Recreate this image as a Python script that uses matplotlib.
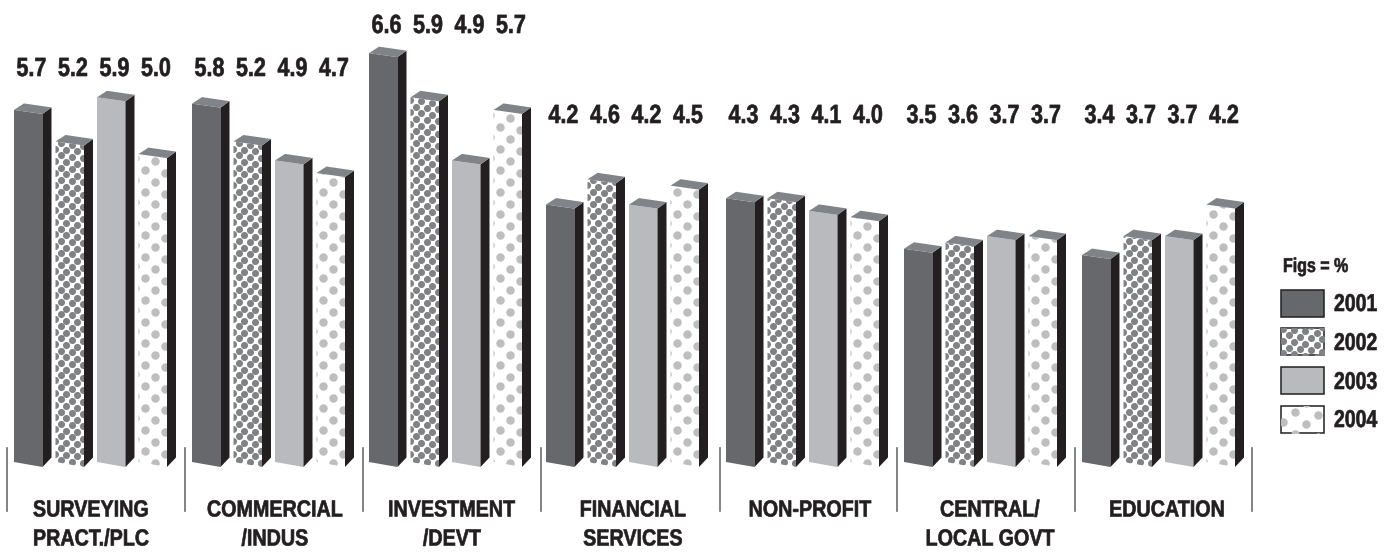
import numpy as np
import matplotlib
matplotlib.use("Agg")
import matplotlib.pyplot as plt
from matplotlib.patches import Polygon, Rectangle
from matplotlib.patheffects import AbstractPathEffect
from matplotlib.transforms import Affine2D

categories = [["SURVEYING", "PRACT./PLC"], ["COMMERCIAL", "/INDUS"], ["INVESTMENT", "/DEVT"],
              ["FINANCIAL", "SERVICES"], ["NON-PROFIT"], ["CENTRAL/", "LOCAL GOVT"], ["EDUCATION"]]
years = ["2001", "2002", "2003", "2004"]
v2001 = [5.7, 5.8, 6.6, 4.2, 4.3, 3.5, 3.4]
v2002 = [5.2, 5.2, 5.9, 4.6, 4.3, 3.6, 3.7]
v2003 = [5.9, 4.9, 4.9, 4.2, 4.1, 3.7, 3.7]
v2004 = [5.0, 4.7, 5.7, 4.5, 4.0, 3.7, 4.2]
series = [v2001, v2002, v2003, v2004]

plt.rcParams["font.family"] = ["Liberation Sans", "DejaVu Sans"]

BASE = 469.6    # pixel row of value 0, the value axis is cut just above it
FLOOR = 462     # pixel row where the bars stop
PER = 63.1      # pixels for one unit
INK = "#231f20"
DOT2, DOT4 = "#808285", "#bcbec0"
faces = ["#66686c", "white", "#b8babd", "white"]
group_x = [14, 192, 369, 546, 726, 904, 1082]
pitch = 41.5
W, DX, DY, SLOPE = 28.5, 9, 6.5, 4

fig = plt.figure(figsize=(13.96, 5.54), dpi=100)
ax = fig.add_axes([0, 0, 1, 1])
ax.set_xlim(0, 1396)
ax.set_ylim(-(554 - BASE) / PER, BASE / PER)
ax.axis("off")


class Tall(AbstractPathEffect):
    # the original type is condensed and heavy: stretch the glyphs up from the baseline, thicken a bit
    def __init__(self, sy):
        super().__init__()
        self.sy = sy

    def draw_path(self, renderer, gc, tpath, affine, rgbFace=None):
        gc0 = renderer.new_gc()
        gc0.copy_properties(gc)
        gc0.set_linewidth(0.45)
        gc0.set_foreground(INK)
        renderer.draw_path(gc0, tpath, Affine2D().scale(1, self.sy) + affine, rgbFace)
        gc0.restore()


def py(p):
    # pixel row -> value
    return (BASE - p) / PER


def label(x, row, s, size, ha="center", sy=1.2):
    ax.text(x, py(row), s, ha=ha, va="baseline", fontsize=size, fontweight="bold",
            color=INK, path_effects=[Tall(sy)], zorder=6)


def dots(patch, x0, x1, p_bottom, p_top, color, dx, dy, size, xoff=0):
    # staggered dots clipped to the bar face
    xs, ys = [], []
    for i, p in enumerate(np.arange(p_bottom + 10, p_top - 20, -dy)):
        shift = dx / 2 if i % 2 else 0
        for x in np.arange(x0 - dx + shift + xoff, x1 + dx, dx):
            xs.append(x)
            ys.append(py(p + (x - x0) * 0.12))
    sc = ax.scatter(xs, ys, s=size, color=color, linewidths=0, zorder=3)
    sc.set_clip_path(patch)


def bar(x, val, kind):
    top = BASE - val * PER
    tl, tr = (x, py(top)), (x + W, py(top + SLOPE))
    bl, br = (x, py(FLOOR)), (x + W, py(FLOOR + SLOPE + 1))
    bt, bt2 = (x + W + DX, py(top - DY + SLOPE)), (x + DX + 1, py(top - DY))
    bb = (x + W + DX, py(FLOOR - DY + SLOPE - 2))
    front = Polygon([tl, tr, br, bl], closed=True, fc=faces[kind], ec="none", zorder=2)
    ax.add_patch(front)
    ax.add_patch(Polygon([tr, bt, bb, br], closed=True, fc=INK, ec="none", zorder=4))
    ax.add_patch(Polygon([tl, bt2, bt, tr], closed=True, fc="#808488", ec="none", zorder=4))
    if kind == 1:
        dots(front, x, x + W, FLOOR, top, DOT2, 11.2, 6.1, 26, xoff=5)
    elif kind == 3:
        dots(front, x, x + W, FLOOR, top, DOT4, 20, 10.8, 37, xoff=6)


for g, gx in enumerate(group_x):
    for k, vals in enumerate(series):
        bar(gx + k * pitch, vals[g], k)

label_rows = [76, 76, 33, 123, 123, 123, 123]
for g, gx in enumerate(group_x):
    for k, vals in enumerate(series):
        label(gx + k * pitch + 17.5, label_rows[g], f"{vals[g]:.1f}", 15.5, sy=1.22)

seps = [7, 185, 363, 541, 720, 897, 1075, 1252]
for s in seps:
    ax.plot([s, s], [py(448), py(511)], color="#6d6e71", lw=1.2)

label_x = [91, 275, 452, 633, 810, 990, 1167]
for g, lines in enumerate(categories):
    for i, t in enumerate(lines):
        label(label_x[g], 516.5 + 29 * i, t, 14.2, sy=1.18)

# legend
label(1283, 272, "Figs = %", 11.5, ha="left", sy=1.25)
swatch_rows = [290, 328, 367, 406]
year_rows = [311, 350, 389, 427]
for k, yr in enumerate(years):
    p = swatch_rows[k]
    r = Rectangle((1281, py(p + 27)), 43, 27 / PER, fc=faces[k], ec=INK, lw=1.1, zorder=2)
    ax.add_patch(r)
    if k == 1:
        dots(r, 1281, 1324, p + 27, p, DOT2, 11.2, 6.1, 26, xoff=2)
    elif k == 3:
        dots(r, 1281, 1324, p + 27, p, DOT4, 23, 10.8, 37, xoff=2)
    label(1334, year_rows[k], yr, 14, ha="left", sy=1.25)

fig.savefig("out.png", dpi=100)
